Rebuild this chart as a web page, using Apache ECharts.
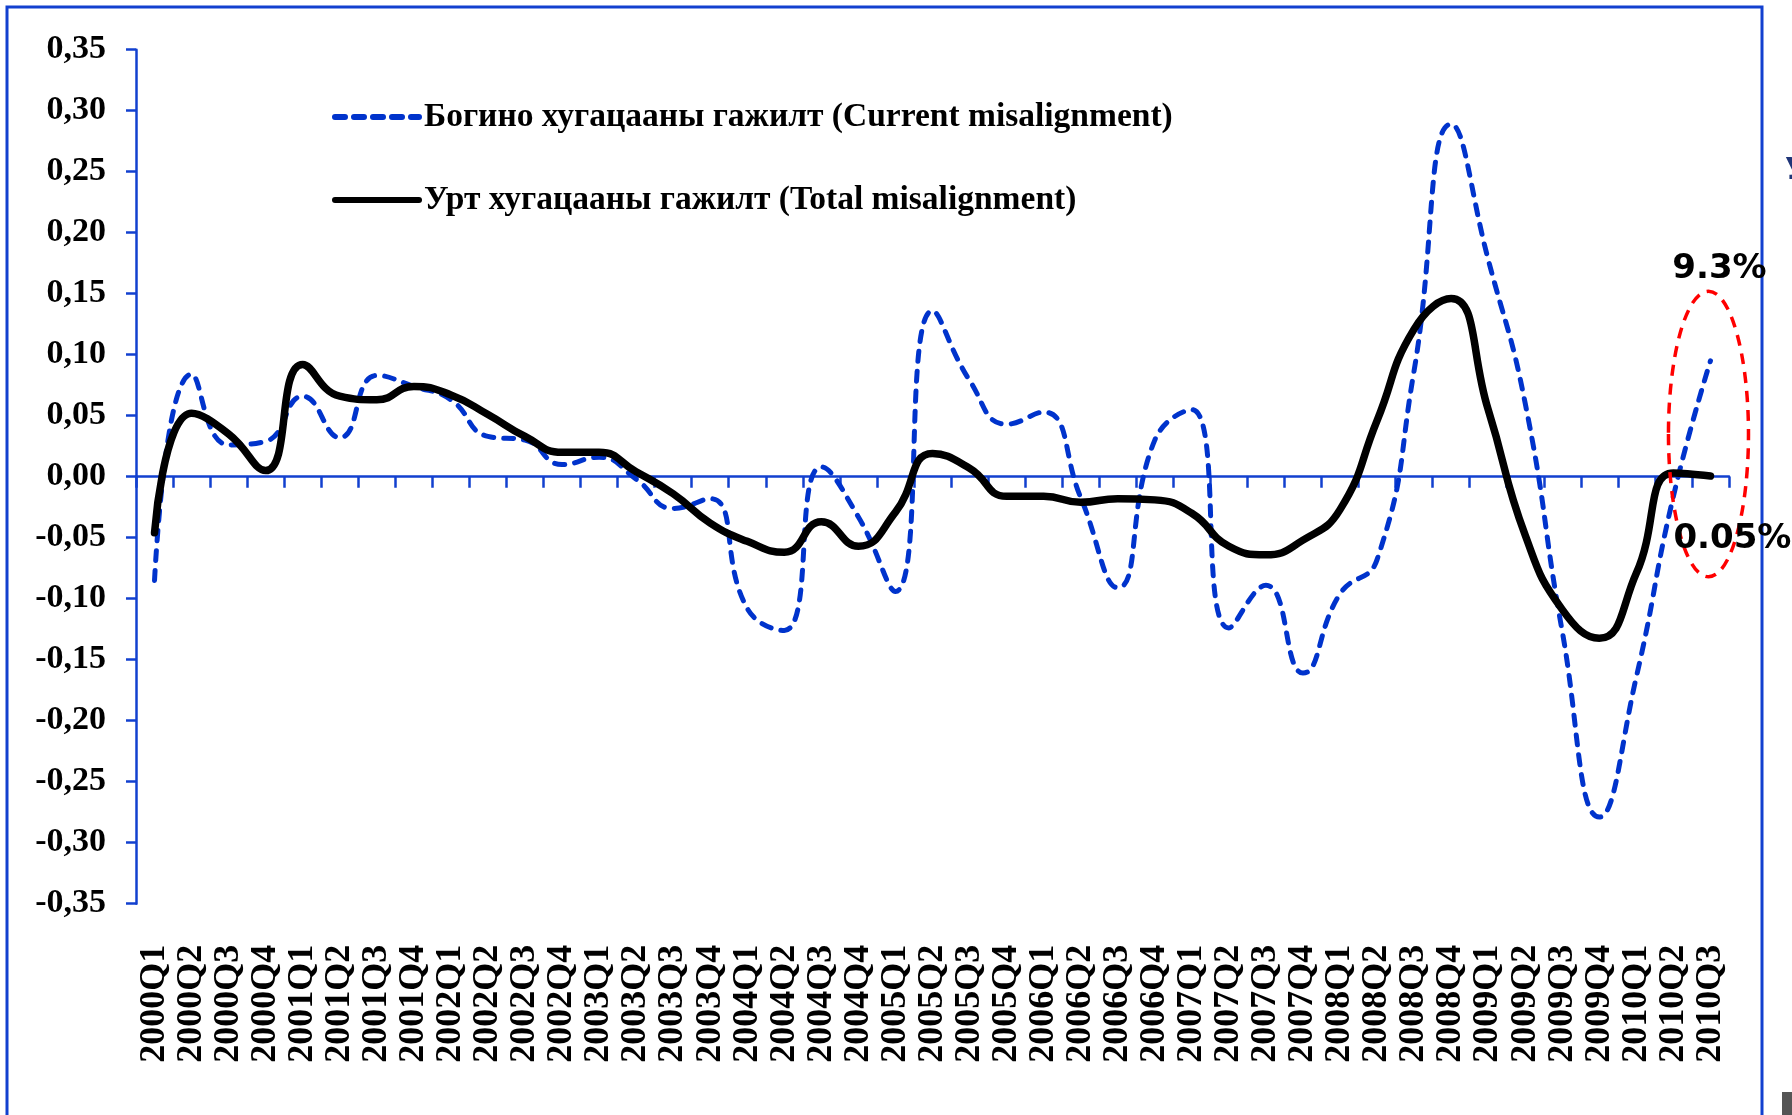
<!DOCTYPE html>
<html>
<head>
<meta charset="utf-8">
<script src="https://cdn.jsdelivr.net/npm/echarts@6/dist/echarts.min.js"></script>
<style>
html,body{margin:0;padding:0;background:#fff;}
#c{width:1792px;height:1115px;}
</style>
</head>
<body>
<div id="c"></div>
<script>
var quarters = [];
var years = ['2000','2001','2002','2003','2004','2005','2006','2007','2008','2009','2010'];
years.forEach(function(y){ ['Q1','Q2','Q3','Q4'].forEach(function(q){ quarters.push(y+q); }); });
quarters = quarters.slice(0, 43);

var seriesNames = ['Богино хугацааны гажилт (Current misalignment)', 'Урт хугацааны гажилт (Total misalignment)'];

var currentMis = [
  -0.085, 0.084, 0.026, 0.029, 0.066, 0.032, 0.083, 0.074, 0.063, 0.033,
   0.030, 0.010, 0.016, -0.002, -0.026, -0.018, -0.108, -0.126, 0.008, -0.033,
  -0.094, 0.136, 0.079, 0.043, 0.053, -0.017, -0.091, 0.030, 0.055, -0.124,
  -0.089, -0.161, -0.096, -0.068, 0.087, 0.289, 0.178, 0.060, -0.127, -0.279,
  -0.164, -0.016, 0.095
];
var totalMis = [
  -0.046, 0.052, 0.035, 0.005, 0.092, 0.066, 0.063, 0.074, 0.067, 0.051,
   0.033, 0.020, 0.020, 0.004, -0.014, -0.038, -0.053, -0.062, -0.037, -0.057,
  -0.029, 0.019, 0.007, -0.016, -0.016, -0.021, -0.018, -0.019, -0.030, -0.057,
  -0.064, -0.052, -0.027, 0.046, 0.121, 0.146, 0.055, -0.048, -0.109, -0.1325,
  -0.079, 0.003, 0.0005
];

var yMin = -0.35, yMax = 0.35, yStep = 0.05;

// annotation texts from the picture
var annotTop = '9.3%';
var annotBottom = '0.05%';

var AXIS_BLUE = '#1240cf';
var SERIF = "'Liberation Serif','Times New Roman',serif";

var chart = echarts.init(document.getElementById('c'), null, {renderer:'canvas'});

var option = {
  animation: false,
  backgroundColor: '#ffffff',
  grid: { left: 136, right: 63, top: 49.7, bottom: 211.3, containLabel: false },
  legend: {
    orient: 'vertical',
    left: 327,
    top: 92,
    itemWidth: 84,
    itemHeight: 14,
    itemGap: 43,
    data: [
      { name: seriesNames[0], lineStyle: { width: 6, type: [10, 9], cap: 'round', color: '#0033cc' } },
      { name: seriesNames[1], lineStyle: { width: 6, color: '#000000', cap: 'round' } }
    ],
    itemStyle: { opacity: 0 },
    textStyle: { fontFamily: SERIF, fontWeight: 'bold', fontSize: 33.5, color: '#000', lineHeight: 40 }
  },
  xAxis: [
    {
      type: 'category',
      data: quarters,
      position: 'bottom',
      boundaryGap: true,
      axisLine: { show: false, onZero: false },
      axisTick: { show: false },
      splitLine: { show: false },
      axisLabel: {
        interval: 0, rotate: 90, margin: 41,
        fontFamily: SERIF, fontWeight: 'bold', fontSize: 36, color: '#000'
      }
    },
    {
      type: 'category',
      data: quarters,
      position: 'bottom',
      boundaryGap: true,
      axisLine: { show: true, onZero: true, lineStyle: { color: AXIS_BLUE, width: 2.5 } },
      axisTick: { show: true, interval: 0, inside: false, length: 11, lineStyle: { color: AXIS_BLUE, width: 2.5 } },
      axisLabel: { show: false, interval: 0 },
      splitLine: { show: false }
    }
  ],
  yAxis: {
    type: 'value',
    min: yMin, max: yMax, interval: yStep,
    axisLine: { show: true, lineStyle: { color: AXIS_BLUE, width: 2.5 } },
    axisTick: { show: true, inside: false, length: 10, lineStyle: { color: AXIS_BLUE, width: 2.5 } },
    splitLine: { show: false },
    axisLabel: {
      margin: 30,
      fontFamily: SERIF, fontWeight: 'bold', fontSize: 34, color: '#000',
      formatter: function (v) { var s = Math.abs(v) < 1e-9 ? '0.00' : v.toFixed(2); return s.replace('.', ','); }
    }
  },
  series: [
    {
      name: seriesNames[0],
      type: 'line',
      xAxisIndex: 0,
      data: currentMis,
      smooth: 0.5,
      symbol: 'none',
      lineStyle: { color: '#0033cc', width: 5, type: [10, 10], cap: 'round' },
      itemStyle: { color: '#0033cc' },
      z: 3
    },
    {
      name: seriesNames[1],
      type: 'line',
      xAxisIndex: 0,
      data: totalMis,
      smooth: 0.5,
      symbol: 'none',
      lineStyle: { color: '#000000', width: 7.5, cap: 'round', join: 'round' },
      itemStyle: { color: '#000000' },
      z: 4
    }
  ]
};
chart.setOption(option);

// annotation placement through the chart's own scales
var last = quarters.length - 1;
var pC = chart.convertToPixel({ xAxisIndex: 0, yAxisIndex: 0 }, [last, 0.035]);
var pA = chart.convertToPixel({ xAxisIndex: 0, yAxisIndex: 0 }, [last - 1, 0.035 + 0.117]);
var rx = (pC[0] - pA[0]) * 1.08;
var ry = pA[1] - pC[1];
var pTop = chart.convertToPixel({ xAxisIndex: 0, yAxisIndex: 0 }, [last, 0.170]);
var pBot = chart.convertToPixel({ xAxisIndex: 0, yAxisIndex: 0 }, [last - 1, -0.051]);

chart.setOption({
  graphic: [
    { type: 'rect', silent: true, z: 0,
      shape: { x: 7, y: 7, width: 1755, height: 1300 },
      style: { fill: null, stroke: AXIS_BLUE, lineWidth: 3 } },
    { type: 'ellipse', silent: true, z: 10,
      shape: { cx: pC[0] - 2, cy: pC[1], rx: rx, ry: ry },
      style: { fill: null, stroke: '#ff0000', lineWidth: 3.5, lineDash: [11, 8] } },
    { type: 'text', silent: true, z: 11,
      x: pTop[0] + 9, y: pTop[1],
      style: { text: annotTop, font: "bold 34px 'DejaVu Sans', Verdana, sans-serif", fill: '#000', textAlign: 'center', textVerticalAlign: 'middle' } },
    { type: 'text', silent: true, z: 11,
      x: pBot[0], y: pBot[1],
      style: { text: annotBottom, font: "bold 34px 'DejaVu Sans', Verdana, sans-serif", fill: '#000', textAlign: 'left', textVerticalAlign: 'middle' } },
    { type: 'text', silent: true, z: 11,
      x: 1785, y: 171,
      style: { text: 'У', font: "bold 30px 'DejaVu Sans', sans-serif", fill: '#1f3578', textAlign: 'left', textVerticalAlign: 'middle' } },
    { type: 'rect', silent: true, z: 11,
      shape: { x: 1782, y: 1092, width: 12, height: 25 },
      style: { fill: '#555555' } }
  ]
});
</script>
</body>
</html>
